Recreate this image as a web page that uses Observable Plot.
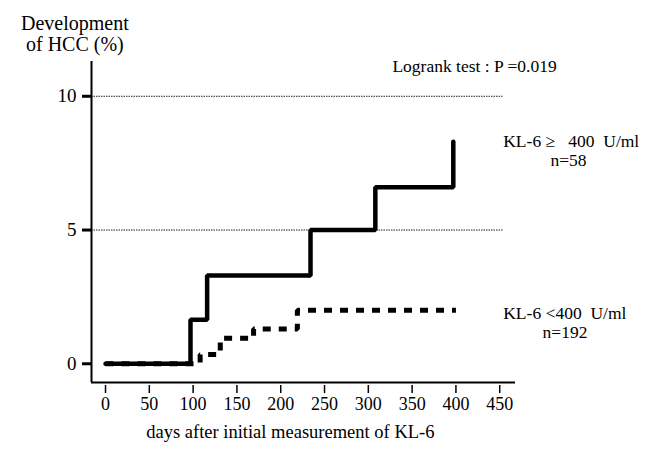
<!DOCTYPE html>
<html>
<head>
<meta charset="utf-8">
<script src="https://cdn.jsdelivr.net/npm/d3@7"></script>
<script src="https://cdn.jsdelivr.net/npm/@observablehq/plot@0.6"></script>
<style>
  html, body { margin: 0; padding: 0; background: white; }
  svg, svg text { font-family: "Liberation Serif", "DejaVu Serif", serif !important; }
</style>
</head>
<body>
<div id="chart"></div>
<script>
// KL-6 >= 400 U/ml (n=58): step points (day, cumulative %)
const highDays = [0, 97, 116, 234, 308, 397];
const highPct  = [0, 1.65, 3.3, 5.0, 6.6, 8.3];
// KL-6 < 400 U/ml (n=192)
const lowDays = [0, 108, 131, 169, 219, 400];
const lowPct  = [0, 0.35, 0.95, 1.3, 2.0, 2.0];

const xTicks = [0, 50, 100, 150, 200, 250, 300, 350, 400, 450];
const yTicks = [0, 5, 10];
const gridLines = [5, 10];

const yTitle = "Development\nof HCC (%)";
const xTitle = "days after initial measurement of KL-6";
const testLabel = "Logrank test : P =0.019";
const highLabel = ["KL-6 \u2265\u00a0\u00a0\u00a0400\u00a0\u00a0U/ml", "n=58"];
const lowLabel = ["KL-6 <400\u00a0\u00a0U/ml", "n=192"];

const high = highDays.map((d, i) => ({day: d, pct: highPct[i]}));
const low = lowDays.map((d, i) => ({day: d, pct: lowPct[i]}));

const xDomain = [-16, 468];
const yDomain = [-0.7, 11.3];

const chart = Plot.plot({
  width: 659,
  height: 449,
  marginLeft: 91,
  marginRight: 144,
  marginTop: 61,
  marginBottom: 67,
  style: {background: "white", color: "black"},
  x: {domain: xDomain},
  y: {domain: yDomain},
  marks: [
    Plot.ruleY(gridLines, {x1: xDomain[0], x2: 454, stroke: "#222", strokeWidth: 1, strokeDasharray: "1.5,1"}),
    Plot.ruleX([xDomain[0]], {stroke: "black", strokeWidth: 2}),
    Plot.ruleY([yDomain[0]], {stroke: "black", strokeWidth: 2}),
    Plot.axisY({ticks: yTicks, tickSize: 9, tickPadding: 6, strokeWidth: 3, fontSize: 19, label: null}),
    Plot.axisX({ticks: xTicks, tickSize: 8, tickPadding: 4, dy: 3, strokeWidth: 1.5, fontSize: 18, label: null}),
    Plot.line(low, {x: "day", y: "pct", curve: "step-after", stroke: "black", strokeWidth: 5, strokeDasharray: "8,8", strokeLinecap: "butt", strokeLinejoin: "miter"}),
    Plot.line(high, {x: "day", y: "pct", curve: "step-after", stroke: "black", strokeWidth: 4.5, strokeLinejoin: "miter"}),
    Plot.text([yTitle], {x: -35, y: 12.35, fontSize: 20, lineHeight: 1.08, textAnchor: "middle", lineAnchor: "middle"}),
    Plot.text([xTitle], {x: 211, y: -2.55, fontSize: 18.5, textAnchor: "middle", lineAnchor: "middle"}),
    Plot.text([testLabel], {x: 327.5, y: 11.13, fontSize: 17.5, textAnchor: "start", lineAnchor: "middle"}),
    Plot.text([highLabel[0]], {x: 454, y: 8.3, fontSize: 17.5, textAnchor: "start", lineAnchor: "middle"}),
    Plot.text([highLabel[1]], {x: 528.5, y: 7.62, fontSize: 17.5, textAnchor: "middle", lineAnchor: "middle"}),
    Plot.text([lowLabel[0]], {x: 454, y: 1.9, fontSize: 17.5, textAnchor: "start", lineAnchor: "middle"}),
    Plot.text([lowLabel[1]], {x: 524.5, y: 1.16, fontSize: 17.5, textAnchor: "middle", lineAnchor: "middle"})
  ]
});
document.getElementById("chart").appendChild(chart);
</script>
</body>
</html>
